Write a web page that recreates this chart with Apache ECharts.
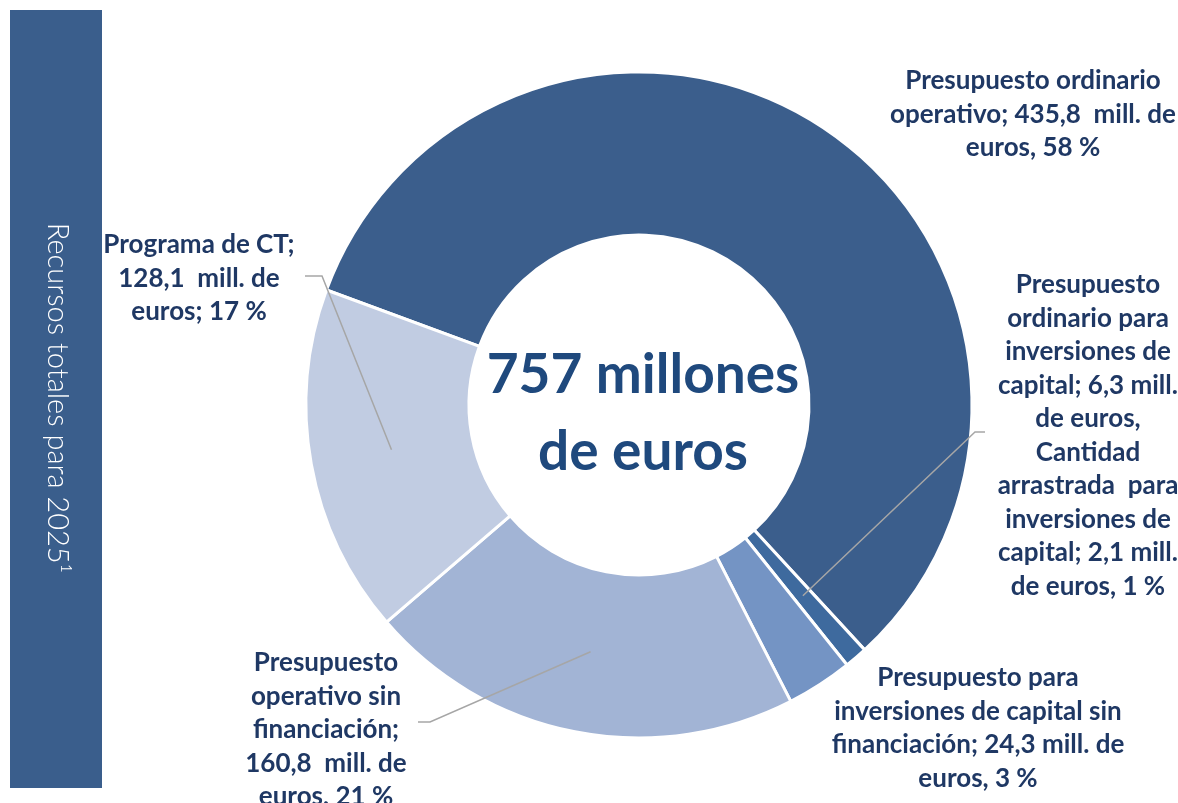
<!DOCTYPE html>
<html>
<head>
<meta charset="utf-8">
<script src="https://cdn.jsdelivr.net/npm/echarts@6/dist/echarts.min.js"></script>
<style>
  html, body { margin: 0; padding: 0; background: #fff; }
  #chart { width: 1178px; height: 803px; }
</style>
</head>
<body>
<div id="chart"></div>
<script>
// valores en millones de euros
var ordinarioOperativo = 435.8;
var capitalOrdinario = [6.3, 2.1];   // ordinario + cantidad arrastrada
var capitalSinFin = 24.3;
var operativoSinFin = 160.8;
var programaCT = 128.1;

var sliceNames = [
  'Presupuesto ordinario operativo',
  'Presupuesto ordinario / arrastrado para inversiones de capital',
  'Presupuesto para inversiones de capital sin financiación',
  'Presupuesto operativo sin financiación',
  'Programa de CT'
];
var sliceValues = [
  ordinarioOperativo,
  capitalOrdinario[0] + capitalOrdinario[1],
  capitalSinFin,
  operativoSinFin,
  programaCT
];
var sliceColors = ['#3b5e8c', '#3e6a9e', '#7494c4', '#a2b4d5', '#c1cce2'];

var labelTexts = [
  'Presupuesto ordinario\noperativo; 435,8  mill. de\neuros, 58 %',
  'Presupuesto\nordinario para\ninversiones de\ncapital; 6,3 mill.\nde euros,\nCantidad\narrastrada  para\ninversiones de\ncapital; 2,1 mill.\nde euros, 1 %',
  'Presupuesto para\ninversiones de capital sin\nfinanciación; 24,3 mill. de\neuros, 3 %',
  'Presupuesto\noperativo sin\nfinanciación;\n160,8  mill. de\neuros, 21 %',
  'Programa de CT;\n128,1  mill. de\neuros; 17 %'
];

var centerText = '757 millones\nde euros';
var sideText = 'Recursos totales para 2025\u00b9';

// geometria del anillo
var cx = 639, cy = 405, rIn = 170, rOut = 333;
var startAngle = 159.8;

// posicion de cada etiqueta (centro, borde superior) y tramo final de la guia
var labelSpots = [
  { x: 1033, y: 64 },
  { x: 1088, y: 268, line: [975, 432, 985, 432] },
  { x: 978, y: 661 },
  { x: 326, y: 646, line: [430, 722, 418, 722] },
  { x: 199, y: 228, line: [322, 276, 305, 276] }
];

var total = sliceValues.reduce(function (a, b) { return a + b; }, 0);
function midAngle(i) {
  var before = 0;
  for (var k = 0; k < i; k++) before += sliceValues[k];
  return (startAngle - (before + sliceValues[i] / 2) / total * 360) * Math.PI / 180;
}

// guias: desde el centro del anillo de cada porcion hasta su etiqueta
var guideLines = [];
labelSpots.forEach(function (spot, i) {
  if (!spot.line) return;
  var a = midAngle(i);
  var r = (rIn + rOut) / 2;
  guideLines.push({
    type: 'polyline',
    z: 10,
    shape: {
      points: [
        [cx + r * Math.cos(a), cy - r * Math.sin(a)],
        [spot.line[0], spot.line[1]],
        [spot.line[2], spot.line[3]]
      ]
    },
    style: { stroke: '#a6a6a6', lineWidth: 1.5, fill: null }
  });
});

var chart = echarts.init(document.getElementById('chart'));
chart.setOption({
  animation: false,
  graphic: [
    {
      type: 'rect',
      shape: { x: 10, y: 10, width: 92, height: 778 },
      style: { fill: '#3a5e8c' }
    },
    {
      type: 'text',
      x: 57, y: 398,
      rotation: -Math.PI / 2,
      style: {
        text: sideText,
        fill: '#ffffff',
        font: '300 29px Lato',
        align: 'center',
        verticalAlign: 'middle'
      }
    },
    {
      type: 'text',
      x: cx + 4, y: 414,
      style: {
        text: centerText,
        fill: '#1f497d',
        font: 'bold 55px Lato',
        lineHeight: 77,
        align: 'center',
        verticalAlign: 'middle'
      }
    }
  ].concat(guideLines),
  series: [
    {
      type: 'pie',
      center: [cx, cy],
      radius: [rIn, rOut],
      startAngle: startAngle,
      clockwise: true,
      avoidLabelOverlap: false,
      itemStyle: { borderColor: '#ffffff', borderWidth: 3 },
      label: {
        show: true,
        position: 'outside',
        color: '#1f3864',
        fontFamily: 'Lato',
        fontWeight: 'bold',
        fontSize: 26,
        lineHeight: 33.5,
        align: 'center'
      },
      labelLine: { show: false },
      emphasis: { disabled: true },
      labelLayout: function (params) {
        var spot = labelSpots[params.dataIndex];
        return { x: spot.x, y: spot.y, align: 'center', verticalAlign: 'top' };
      },
      data: sliceValues.map(function (v, i) {
        return {
          name: sliceNames[i],
          value: v,
          itemStyle: { color: sliceColors[i] },
          label: { formatter: labelTexts[i] }
        };
      })
    }
  ]
});
</script>
</body>
</html>
